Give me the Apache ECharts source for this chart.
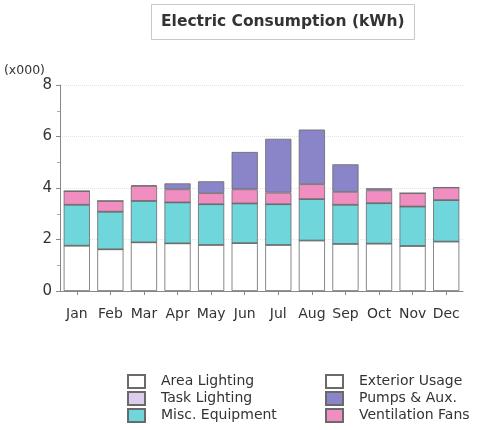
<!DOCTYPE html>
<html>
<head>
<meta charset="utf-8">
<script src="https://cdn.jsdelivr.net/npm/echarts@6/dist/echarts.min.js"></script>
<style>
  html, body { margin: 0; padding: 0; background: #fff; }
  #chart { width: 477px; height: 430px; }
</style>
</head>
<body>
<div id="chart"></div>
<script>
// monthly values in thousands of kWh
const months = ['Jan', 'Feb', 'Mar', 'Apr', 'May', 'Jun', 'Jul', 'Aug', 'Sep', 'Oct', 'Nov', 'Dec']
const areaLighting = [1.76, 1.62, 1.89, 1.85, 1.79, 1.86, 1.79, 1.96, 1.83, 1.84, 1.75, 1.92]
const taskLighting = [0, 0, 0, 0, 0, 0, 0, 0, 0, 0, 0, 0]
const miscEquipment = [1.59, 1.46, 1.61, 1.59, 1.58, 1.54, 1.58, 1.61, 1.52, 1.57, 1.53, 1.61]
const exteriorUsage = [0, 0, 0, 0, 0, 0, 0, 0, 0, 0, 0, 0]
const ventilationFans = [0.53, 0.42, 0.58, 0.51, 0.43, 0.55, 0.45, 0.58, 0.50, 0.50, 0.52, 0.49]
const pumpsAux = [0, 0, 0.02, 0.23, 0.46, 1.45, 2.09, 2.12, 1.07, 0.08, 0, 0]
const yTicks = [0, 2, 4, 6, 8]

const font = 'DejaVu Sans'
let mycharts = echarts.init(document.getElementById('chart'))

//每个系列的公共样式
function bar(name, data, color) {
  return {
    name: name,
    type: 'bar',
    stack: 'total',
    data: data,
    barCategoryGap: '22%',
    itemStyle: { color: color, borderColor: '#6a6a6a', borderWidth: 0.8 },
  }
}

//图例公共样式
function legend(left, names) {
  return {
    orient: 'vertical',
    left: left,
    top: 369,
    height: 62,
    itemWidth: 17,
    itemHeight: 13,
    itemGap: 2,
    icon: 'rect',
    textStyle: { fontFamily: font, fontSize: 14, color: '#333', padding: [0, 0, 0, 11] },
    data: names,
  }
}

mycharts.setOption({
  animation: false,
  textStyle: { fontFamily: font },
  title: {
    text: 'Electric Consumption (kWh)',
    left: 151,
    top: 4,
    padding: [10, 10, 10, 10],
    borderColor: '#c8c8c8',
    borderWidth: 1,
    backgroundColor: '#fff',
    textStyle: { fontFamily: font, fontSize: 15.5, fontWeight: 'bold', color: '#333' },
  },
  legend: [
    legend(122, ['Area Lighting', 'Task Lighting', 'Misc. Equipment']),
    legend(320, ['Exterior Usage', 'Pumps & Aux.', 'Ventilation Fans']),
  ],
  grid: { left: 60, right: 14, top: 85, bottom: 139, outerBoundsMode: 'none' },
  xAxis: {
    type: 'category',
    data: months,
    axisLine: { show: true, lineStyle: { color: '#888' } },
    axisTick: { show: true, alignWithLabel: true, length: 4, lineStyle: { color: '#888' } },
    axisLabel: { fontFamily: font, fontSize: 14, color: '#333', margin: 16, interval: 0 },
  },
  yAxis: {
    type: 'value',
    min: yTicks[0],
    max: yTicks[yTicks.length - 1],
    interval: 2,
    name: '(x000)',
    nameLocation: 'end',
    nameGap: 8,
    nameTextStyle: { fontFamily: font, fontSize: 12.5, color: '#333', align: 'right', padding: [0, 15, 0, 0] },
    axisLine: { show: true, lineStyle: { color: '#888' } },
    axisTick: { show: true, length: 4, lineStyle: { color: '#888' } },
    minorTick: { show: true, splitNumber: 2, length: 3, lineStyle: { color: '#aaa' } },
    axisLabel: { fontFamily: font, fontSize: 15, color: '#333', margin: 8 },
    splitLine: { show: true, lineStyle: { color: '#e4e4e4', type: 'dotted' } },
  },
  series: [
    bar('Area Lighting', areaLighting, '#ffffff'),
    bar('Task Lighting', taskLighting, '#dccdec'),
    bar('Misc. Equipment', miscEquipment, '#6fd6dc'),
    bar('Exterior Usage', exteriorUsage, '#ffffff'),
    bar('Ventilation Fans', ventilationFans, '#f08ec2'),
    bar('Pumps & Aux.', pumpsAux, '#8a84c8'),
  ],
})
</script>
</body>
</html>
